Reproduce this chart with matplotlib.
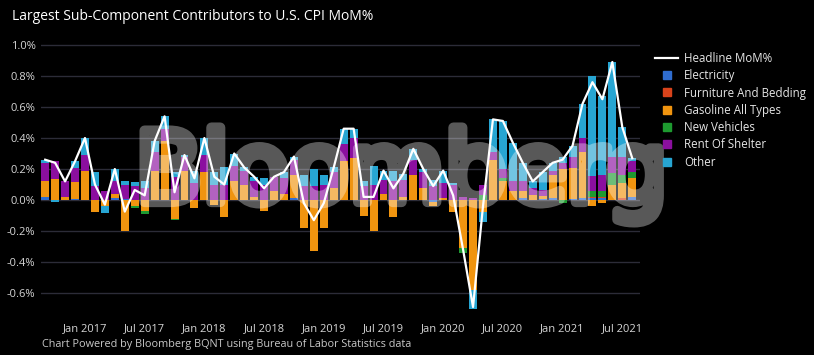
import numpy as np
import matplotlib
matplotlib.use("Agg")
from matplotlib import pyplot as plt
from matplotlib.lines import Line2D
from matplotlib.patheffects import AbstractPathEffect

plt.rcParams['font.family'] = ['Open Sans', 'DejaVu Sans']

# monthly data, Sep 2016 .. Aug 2021
tick_labels = ['Jan 2017', 'Jul 2017', 'Jan 2018', 'Jul 2018', 'Jan 2019',
               'Jul 2019', 'Jan 2020', 'Jul 2020', 'Jan 2021', 'Jul 2021']
tick_pos = [4, 10, 16, 22, 28, 34, 40, 46, 52, 58]

headline = [0.26, 0.24, 0.12, 0.25,
            0.40, 0.10, -0.03, 0.20, -0.075, 0.065, 0.03, 0.38, 0.54, 0.05, 0.29, 0.14,
            0.40, 0.15, 0.10, 0.30, 0.21, 0.15, 0.075, 0.15, 0.18, 0.28, -0.02, -0.13,
            -0.02, 0.21, 0.46, 0.46, 0.02, 0.02, 0.19, 0.075, 0.17, 0.33, 0.20, 0.09,
            0.19, 0.03, -0.32, -0.69, -0.04, 0.52, 0.51, 0.37, 0.24, 0.12, 0.18, 0.24,
            0.26, 0.35, 0.62, 0.76, 0.65, 0.89, 0.47, 0.27]

electricity = [0.02, 0.0, 0.0, 0.005,
               0.0, 0.0, 0.0, 0.015, 0.005, 0.0, 0.0, 0.0, 0.0, 0.0, 0.0, 0.0,
               0.0, 0.0, 0.0, 0.0, 0.0, 0.0, 0.0, 0.0, 0.0, 0.01, 0.0, 0.0,
               0.0, 0.0, 0.0, 0.0, 0.0, 0.0, 0.0, 0.0, 0.0, 0.0, 0.0, -0.01,
               0.0, 0.0, 0.0, 0.0, 0.0, 0.0, 0.0, 0.0, 0.01, 0.0, 0.005, 0.01,
               0.0, 0.005, 0.01, 0.01, 0.01, 0.0, 0.0, 0.02]

furniture = [0.0, 0.0, 0.0, 0.0,
             0.0, 0.0, 0.0, 0.0, 0.0, 0.0, 0.0, 0.0, 0.0, 0.0, 0.0, 0.0,
             0.0, 0.0, 0.0, 0.0, 0.0, 0.0, 0.0, 0.0, 0.0, 0.0, 0.0, 0.0,
             0.0, 0.0, 0.0, 0.0, 0.0, 0.0, 0.0, 0.0, 0.0, 0.0, 0.0, 0.0,
             0.0, 0.0, 0.0, 0.0, 0.0, 0.0, 0.0, 0.0, 0.0, 0.0, 0.0, 0.0,
             0.0, 0.0, 0.0, 0.01, 0.01, 0.0, 0.01, 0.0]

gasoline = [0.10, 0.135, 0.02, 0.11,
            0.19, -0.08, -0.04, 0.025, -0.20, -0.04, -0.07, 0.19, 0.38, -0.12, 0.19, -0.05,
            0.18, -0.03, -0.11, 0.12, 0.10, 0.02, -0.07, 0.06, 0.04, 0.15, -0.18, -0.33,
            -0.18, 0.08, 0.25, 0.27, -0.10, -0.20, 0.04, -0.11, 0.02, 0.16, 0.08, -0.03,
            0.01, -0.08, -0.31, -0.58, -0.08, 0.26, 0.12, 0.06, 0.05, 0.03, 0.02, 0.15,
            0.20, 0.20, 0.30, -0.04, -0.02, 0.10, 0.10, 0.12]

new_vehicles = [0.0, 0.0, 0.0, 0.0,
                0.0, 0.0, 0.0, 0.0, 0.0, -0.01, -0.02, 0.0, 0.0, -0.01, 0.0, 0.0,
                0.0, 0.0, 0.0, 0.0, 0.0, 0.0, 0.0, 0.0, 0.0, 0.0, 0.0, 0.0,
                0.0, 0.0, 0.0, 0.0, 0.0, 0.0, 0.0, 0.0, 0.0, 0.0, 0.0, 0.0,
                0.0, 0.0, -0.03, 0.0, 0.03, 0.0, 0.02, 0.0, 0.0, 0.0, 0.0, 0.0,
                -0.02, 0.0, 0.0, 0.04, 0.04, 0.075, 0.05, 0.04]

rent_shelter = [0.12, 0.115, 0.10, 0.09,
                0.10, 0.09, 0.055, 0.08, 0.09, 0.09, 0.08, 0.12, 0.08, 0.15, 0.09, 0.11,
                0.11, 0.10, 0.10, 0.10, 0.09, 0.10, 0.10, 0.09, 0.10, 0.10, 0.09, 0.09,
                0.10, 0.10, 0.11, 0.13, 0.09, 0.10, 0.09, 0.12, 0.11, 0.10, 0.10, 0.09,
                0.10, 0.10, 0.02, 0.01, 0.07, 0.05, 0.06, 0.06, 0.06, 0.05, 0.04, 0.03,
                0.04, 0.07, 0.09, 0.095, 0.10, 0.10, 0.12, 0.07]

other = [0.02, -0.01, 0.0, 0.045,
         0.11, 0.09, -0.045, 0.08, 0.03, 0.025, 0.04, 0.07, 0.08, 0.03, 0.01, 0.08,
         0.11, 0.08, 0.11, 0.08, 0.02, 0.03, 0.045, 0.0, 0.04, 0.02, 0.07, 0.11,
         0.06, 0.03, 0.10, 0.06, 0.03, 0.12, 0.06, 0.065, 0.04, 0.07, 0.02, 0.04,
         0.08, 0.01, 0.0, -0.12, -0.06, 0.21, 0.31, 0.25, 0.12, 0.04, 0.115, 0.05,
         0.04, 0.075, 0.22, 0.645, 0.51, 0.615, 0.19, 0.02]

series = [('Electricity', electricity, '#2f6dd0'),
          ('Furniture And Bedding', furniture, '#d8431b'),
          ('Gasoline All Types', gasoline, '#f0940f'),
          ('New Vehicles', new_vehicles, '#1e9a30'),
          ('Rent Of Shelter', rent_shelter, '#8b0f9f'),
          ('Other', other, '#27a5d2')]


class FatStroke(AbstractPathEffect):
    """draw the glyph outlines as one wide stroke, no fill -> heavy letters, no alpha overlap"""
    def __init__(self, lw, color, alpha):
        super().__init__()
        self.lw, self.color, self.alpha = lw, color, alpha

    def draw_path(self, renderer, gc, tpath, affine, rgbFace=None):
        gc0 = renderer.new_gc()
        gc0.copy_properties(gc)
        gc0.set_linewidth(self.lw)
        gc0.set_foreground(self.color)
        gc0.set_alpha(self.alpha)
        gc0.set_joinstyle('round')
        renderer.draw_path(gc0, tpath, affine, None)
        gc0.restore()


x = np.arange(len(headline))

fig = plt.figure(figsize=(8.14, 3.55), dpi=100, facecolor='black')
ax = fig.add_axes([41 / 814, 1 - 318 / 355, 599 / 814, 280 / 355])
ax.set_facecolor('black')

# relative stacking: positives up from 0, negatives down from 0
pos_base = np.zeros(len(x))
neg_base = np.zeros(len(x))
for name, vals, col in series:
    v = np.array(vals)
    base = np.where(v >= 0, pos_base, neg_base)
    ax.bar(x, v, bottom=base, width=0.8, color=col, linewidth=0, zorder=2)
    pos_base = pos_base + np.where(v > 0, v, 0)
    neg_base = neg_base + np.where(v < 0, v, 0)

ax.plot(x, headline, color='white', lw=1.6, zorder=4)

# watermark
ax.text(135 / 814, 1 - 202 / 355, 'Bloomberg', transform=fig.transFigure,
        family='DejaVu Sans', fontsize=70.5, color='white', ha='left', va='baseline',
        zorder=3, path_effects=[FatStroke(7.4, 'white', 0.35)])

ax.set_xlim(-0.42, 59.78)
ax.set_ylim(-0.761, 1.045)
yt = [-0.6, -0.4, -0.2, 0.0, 0.2, 0.4, 0.6, 0.8, 1.0]
ax.set_yticks(yt)
ax.set_yticklabels(['%.1f%%' % v for v in yt])
ax.set_xticks(tick_pos)
ax.set_xticklabels(tick_labels)
ax.tick_params(colors='#d6d6d6', labelsize=8, length=0, pad=4)
ax.grid(axis='y', color='#2c2c38', lw=1, zorder=0)
for s in ax.spines.values():
    s.set_visible(False)

fig.text(12 / 814, 1 - 17 / 355, 'Largest Sub-Component Contributors to U.S. CPI MoM%',
         color='white', fontsize=10, va='center', ha='left')
fig.text(42 / 814, 1 - 345 / 355,
         'Chart Powered by Bloomberg BQNT using Bureau of Labor Statistics data',
         color='#c8c8c8', fontsize=7.8, va='center', ha='left')

handles = [Line2D([], [], color='white', lw=1.6)]
for name, vals, col in series:
    handles.append(Line2D([], [], color=col, marker='s', markersize=6, linestyle='none'))
labels = ['Headline MoM%'] + [s[0] for s in series]
leg = fig.legend(handles, labels, loc='upper left', bbox_to_anchor=(655 / 814, 1 - 52 / 355),
                 frameon=False, fontsize=8.3, labelcolor='#e6e6e6',
                 handlelength=2.0, handletextpad=0.5, labelspacing=0.37,
                 borderaxespad=0, borderpad=0)

fig.savefig('out.png', dpi=100, facecolor='black')
